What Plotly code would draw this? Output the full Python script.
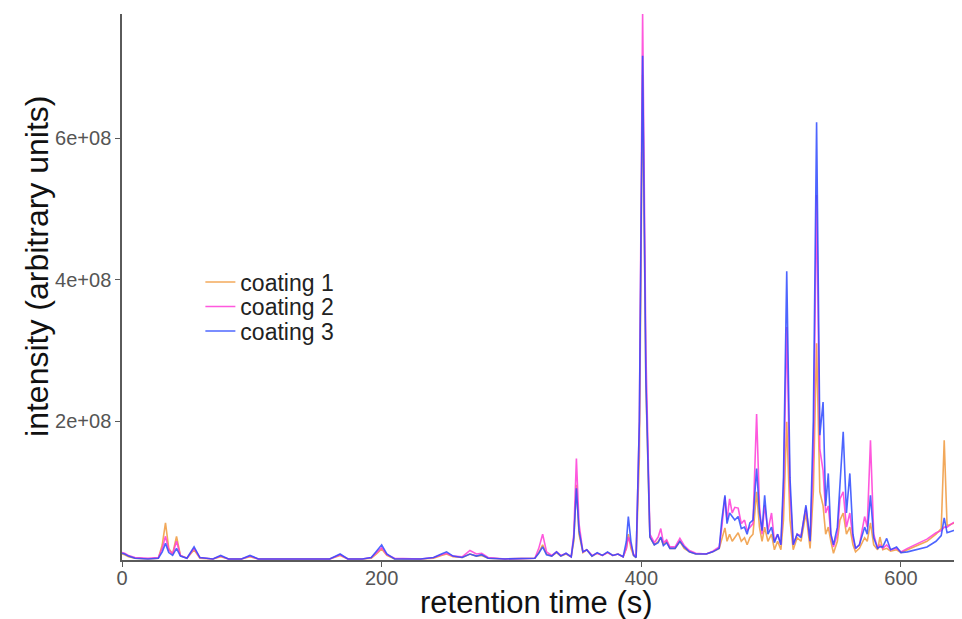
import plotly.graph_objects as go

# retention time (s)
time_s = [0, 2, 5, 10, 20, 28, 31, 33.5, 36, 39, 42, 45, 50, 55.5, 60, 70, 76, 82, 92, 98.6,
          105, 120, 140, 160, 168, 174, 185, 192, 196, 200, 204, 210, 230, 240, 246, 250, 255,
          262, 268, 273, 277, 282, 295, 310, 318, 321, 324, 327, 331, 334.7, 338, 342, 346,
          348, 350, 352, 355, 358, 362, 366, 370, 374, 378, 382, 386, 388.5, 390, 392, 394,
          396, 398.5, 401, 403.5, 406.6, 410, 413, 415, 417, 419.5, 422, 426, 429.7, 433, 437,
          442, 450, 455, 460, 462, 464.4, 466, 468, 470, 472, 474.6, 477, 479.5, 481.5, 483.6,
          486, 488.8, 491, 493, 495, 497.5, 500.3, 502.5, 505, 507.5, 509.5, 512, 514.5, 517,
          520, 523, 526.8, 530, 532.5, 535, 537.5, 540, 542, 544, 546, 548, 551, 553, 555.5,
          558, 560.6, 563, 565, 568, 572, 574, 576.5, 579, 582, 583.8, 586, 589, 592, 596.6,
          600, 605, 612, 620, 627, 631, 633.3, 635.5, 640, 647]

# intensity in units of 1e6 (arbitrary units)
coating_1 = [12, 11, 8, 6, 5, 6, 25, 56, 20, 12, 37, 10, 6, 18, 6, 5, 8, 5, 5, 8,
             5, 5, 5, 5, 10, 5, 5, 6, 12, 19, 10, 5, 5, 6, 10, 12, 8,
             7, 12, 9, 10, 6, 5, 5, 6, 14, 25, 12, 9, 14, 9, 12, 8,
             30, 110, 40, 14, 18, 9, 13, 10, 14, 10, 12, 8, 20, 40, 20, 10,
             7, 150, 690, 250, 36, 25, 30, 35, 25, 30, 20, 20, 30, 20, 15,
             12, 12, 15, 20, 35, 49, 30, 40, 30, 35, 42, 30, 35, 25, 35,
             40, 100, 50, 30, 50, 30, 40, 18, 30, 18, 60, 199, 60, 18,
             35, 30, 70, 20, 100, 310, 100, 80, 40, 50, 30, 13, 30, 60, 70,
             40, 50, 25, 15, 20, 35, 30, 56, 25, 18, 36, 18, 20, 16, 18,
             14, 18, 24, 30, 40, 48, 173, 52, 55, 60]
coating_2 = [14, 13, 10, 7, 6, 7, 20, 37, 18, 12, 30, 10, 6, 20, 7, 5, 9, 5, 5, 9,
             5, 5, 5, 5, 11, 5, 5, 7, 14, 21, 11, 6, 5, 7, 11, 13, 9,
             8, 17, 12, 13, 7, 5, 5, 6, 20, 40, 15, 10, 15, 10, 13, 8,
             40, 147, 55, 15, 18, 10, 13, 10, 14, 10, 12, 8, 20, 36, 25, 12,
             8, 200, 777, 300, 40, 28, 36, 48, 28, 32, 22, 22, 34, 24, 17,
             13, 12, 16, 22, 50, 93, 60, 90, 70, 78, 77, 55, 60, 45, 50,
             55, 210, 80, 40, 81, 45, 70, 30, 40, 25, 100, 333, 100, 25,
             40, 38, 78, 30, 150, 520, 160, 130, 70, 80, 40, 22, 40, 90, 100,
             50, 70, 35, 20, 25, 65, 50, 173, 40, 20, 25, 20, 25, 18, 20,
             15, 20, 26, 33, 42, 45, 50, 50, 56, 63]
coating_3 = [13, 12, 9, 6, 5, 6, 15, 27, 14, 10, 20, 9, 6, 22, 7, 5, 10, 5, 5, 10,
             5, 5, 5, 5, 12, 5, 5, 7, 16, 25, 12, 5, 5, 7, 12, 15, 9,
             7, 12, 9, 11, 6, 5, 5, 6, 13, 22, 11, 9, 15, 9, 13, 8,
             35, 105, 45, 15, 18, 9, 14, 10, 15, 10, 12, 8, 30, 65, 30, 10,
             7, 200, 717, 260, 36, 25, 28, 36, 24, 28, 20, 20, 30, 22, 15,
             12, 12, 15, 20, 60, 95, 55, 70, 65, 60, 65, 48, 50, 40, 56,
             60, 133, 70, 45, 95, 40, 50, 28, 40, 25, 120, 412, 120, 25,
             40, 35, 81, 30, 200, 623, 180, 227, 80, 126, 40, 25, 50, 110, 185,
             70, 126, 40, 20, 25, 50, 40, 95, 35, 20, 22, 22, 34, 18, 22,
             14, 15, 18, 22, 30, 38, 63, 42, 45, 49]

series_names = ["coating 1", "coating 2", "coating 3"]
series_colors = ["#F09A3E", "#FF3CD8", "#2E4BFF"]
y_tick_vals = [200, 400, 600]
y_tick_text = ["2e+08", "4e+08", "6e+08"]
x_tick_vals = [0, 200, 400, 600]

FONT = "Liberation Sans, Arial, Helvetica, sans-serif"

legend_ids = ["legend", "legend2", "legend3"]
legend_y = [0.509, 0.4643, 0.4194]

fig = go.Figure()
for name, vals, color, lid in zip(series_names, [coating_1, coating_2, coating_3],
                                  series_colors, legend_ids):
    fig.add_trace(go.Scatter(x=time_s, y=vals, mode="lines", name=name, legend=lid,
                             line=dict(color=color, width=1.6), opacity=0.85))

legend_common = dict(x=0.0933, xanchor="left", yanchor="middle",
                     bgcolor="rgba(0,0,0,0)",
                     font=dict(size=23, color="#222222", family=FONT),
                     itemwidth=30)

fig.update_layout(
    width=954, height=611,
    margin=dict(l=114, r=0, t=6, b=59),
    plot_bgcolor="white", paper_bgcolor="white",
    font=dict(family=FONT),
    showlegend=True,
    legend=dict(y=legend_y[0], **legend_common),
    legend2=dict(y=legend_y[1], **legend_common),
    legend3=dict(y=legend_y[2], **legend_common),
    xaxis=dict(range=[0, 647], tickvals=x_tick_vals, showgrid=False, zeroline=False,
               showline=True, linecolor="#5a5a5a", linewidth=1.5,
               ticks="outside", ticklen=5, tickcolor="#5a5a5a", tickwidth=1.2,
               ticklabelstandoff=-6,
               tickfont=dict(size=20, color="#555555", family=FONT)),
    yaxis=dict(range=[3.5, 776], tickvals=y_tick_vals, ticktext=y_tick_text,
               showgrid=False, zeroline=False,
               showline=True, linecolor="#5a5a5a", linewidth=1.5,
               ticks="outside", ticklen=5, tickcolor="#5a5a5a", tickwidth=1.2,
               tickfont=dict(size=20, color="#555555", family=FONT)),
    annotations=[
        dict(text="retention time (s)", xref="paper", yref="paper", x=0.4935, y=-0.078,
             xanchor="center", yanchor="middle", showarrow=False,
             font=dict(size=31, color="#111111", family=FONT)),
        dict(text="intensity (arbitrary units)", xref="paper", yref="paper", x=-0.101, y=0.537,
             xanchor="center", yanchor="middle", textangle=-90, showarrow=False,
             font=dict(size=32, color="#111111", family=FONT)),
    ],
)

fig.write_html("out.html")
